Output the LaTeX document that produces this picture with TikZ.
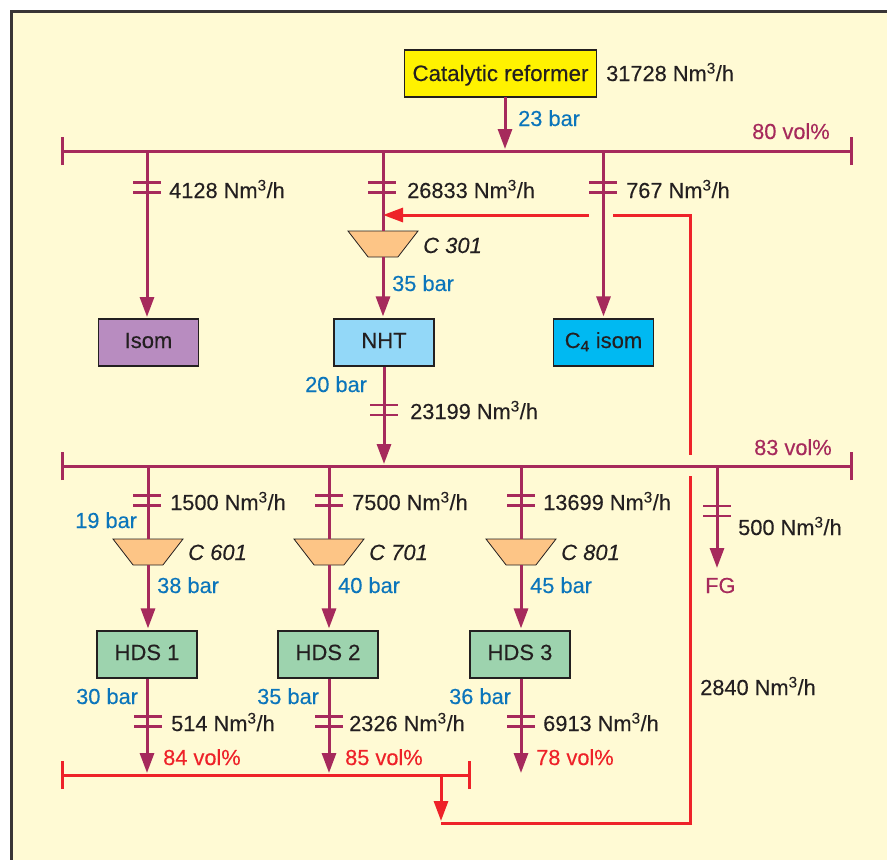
\documentclass[tikz,border=0pt]{standalone}
\usepackage{fontspec}
\setmainfont[RawFeature={embolden=0.25}]{Liberation Sans}
\usepackage{xcolor}
\usetikzlibrary{positioning,arrows.meta,shapes.geometric}
\definecolor{panelcream}{HTML}{FFFAD4}
\definecolor{h2maroon}{HTML}{A62A5C}
\definecolor{h2red}{HTML}{EE2229}
\definecolor{barblue}{HTML}{0B75BB}
\definecolor{inkgrey}{HTML}{231F20}
\definecolor{compfill}{HTML}{FDC586}
\definecolor{hdsgreen}{HTML}{9DD3AE}
\definecolor{isompurple}{HTML}{B88CC0}
\definecolor{nhtblue}{HTML}{93D8F8}
\definecolor{cfourblue}{HTML}{00B9F2}
\definecolor{reformeryellow}{HTML}{FFF200}
\newcommand{\Nm}{Nm\textsuperscript{3}/h}

\begin{document}
\begin{tikzpicture}[
  x=1pt, y=-1pt,
  node distance=100pt and 100pt, on grid,
  txt/.style={font=\fontsize{21.8}{26}\selectfont},
  unit/.style={draw=inkgrey, line width=1.2pt, minimum width=100pt, minimum height=47pt, inner sep=0pt, text height=11pt, text depth=0pt, font=\fontsize{22}{26}\selectfont, text=inkgrey},
  hds/.style={unit, fill=hdsgreen},
  comp/.style={trapezium, shape border rotate=180, trapezium angle=56, trapezium stretches=true, draw=inkgrey, line width=.8pt, fill=compfill, minimum width=70pt, minimum height=26pt, inner sep=1pt},
  flow/.style={anchor=base west, inner sep=0pt, yshift=-1pt, txt, text=inkgrey},
  bar/.style={flow, text=barblue},
  purity/.style={flow, text=h2maroon},
  offgas/.style={flow, text=h2red},
  tag/.style={flow, font=\fontsize{22}{26}\selectfont\itshape},
  pipe/.style={draw=h2maroon, line width=3pt},
  arrow/.style={pipe, shorten >=2pt, -{Triangle[length=20pt,width=14pt]}},
  redpipe/.style={draw=h2red, line width=3pt},
  redarrow/.style={redpipe, shorten >=2pt, -{Triangle[length=20pt,width=14pt]}}
]
\clip (0,0) rectangle (887,860);
\fill[white] (0,0) rectangle (887,860);
\fill[panelcream] (11,11) rectangle (890,880);
\draw[draw=inkgrey!90, line width=3pt] (11,880) -- (11,11) -- (890,11);

% units
\node[unit, fill=reformeryellow, minimum width=192pt, text height=15pt, font=\fontsize{22.3}{26}\selectfont] (reformer) at (500.5,73.5) {Catalytic reformer};
\node[unit, fill=isompurple] (isom) at (148.5,342.5) {Isom};
\node[unit, fill=nhtblue, right=235.5pt of isom] (nht) {NHT};
\node[unit, fill=cfourblue, right=219.5pt of nht] (cfour) {C\textsubscript{4} isom};
\node[hds] (hdsa) at (147,654.5) {HDS 1};
\node[hds, right=181pt of hdsa] (hdsb) {HDS 2};
\node[hds, right=192pt of hdsb] (hdsc) {HDS 3};

% compressors
\node[comp] (cthree) at (383,244) {};
\node[comp] (csix) at (148,552) {};
\node[comp, right=181pt of csix] (cseven) {};
\node[comp, right=192pt of cseven] (ceight) {};

% header ends and taps
\coordinate (hal) at (62,151);
\coordinate (har) at (851,151);
\coordinate (hbl) at (62,466);
\coordinate (hbr) at (851,466);
\coordinate (hcl) at (62,775);
\coordinate (hcr) at (469,775);
\coordinate (reftap) at (505,97);
\coordinate (isomtap) at (147,319);
\coordinate (fgend) at (717,570);
\coordinate (redbot) at (441,823);
\coordinate (redcorner) at (690,823);
\coordinate (redgapa) at (690,476);
\coordinate (redgapb) at (690,455);
\coordinate (redtop) at (690,215);
\coordinate (redstart) at (613,215);
\coordinate (redend) at (589,215);
\coordinate (redtip) at (381,215);

\draw[pipe] (hal) -- (har);
\draw[pipe] (hbl) -- (hbr);
\draw[redpipe] (hcl) -- (hcr);
\foreach \p in {hal,har,hbl,hbr}
  \draw[pipe] ([yshift=-14pt]\p) -- ([yshift=14pt]\p);
\foreach \p in {hcl,hcr}
  \draw[redpipe] ([yshift=-14pt]\p) -- ([yshift=14pt]\p);

% maroon lines
\draw[arrow] (reftap) -- (reftap |- hal);
\draw[arrow] (isomtap |- hal) -- (isomtap);
\draw[pipe] (cthree.north |- hal) -- (cthree.north);
\draw[arrow] (cthree.south) -- (cthree.south |- nht.north);
\draw[arrow] (cfour.north |- hal) -- (cfour.north);
\draw[arrow] (nht.south) -- (nht.south |- hbl);
\draw[pipe] (csix.north |- hbl) -- (csix.north);
\draw[pipe] (cseven.north |- hbl) -- (cseven.north);
\draw[pipe] (ceight.north |- hbl) -- (ceight.north);
\draw[arrow] (csix.south) -- (csix.south |- hdsa.north);
\draw[arrow] (cseven.south) -- (cseven.south |- hdsb.north);
\draw[arrow] (ceight.south) -- (ceight.south |- hdsc.north);
\draw[arrow] (hdsa.south) -- (hdsa.south |- hcl);
\draw[arrow] (cseven.south |- hdsb.south) -- (cseven.south |- hcl);
\draw[arrow] (ceight.south |- hdsc.south) -- (ceight.south |- hcl);
\draw[arrow] (fgend |- hbl) -- (fgend);

% red recycle
\draw[redarrow] (redend) -- (redtip);
\draw[redpipe] (redstart) -- (redtop) -- (redgapb);
\draw[redpipe] (redgapa) -- (redcorner) -- (redbot);
\draw[redarrow] (redbot |- hcl) -- (redbot);

% flow meter marks
\foreach \x/\y in {147/182.5, 382/182.5, 603/182.5, 384/405, 147/495.5, 329/495.5, 521/495.5, 717/506, 148/716.5, 329/716.5, 521/716.5} {
  \draw[draw=h2maroon, line width=2.6pt] (\x-14,\y) -- (\x+14,\y);
  \draw[draw=h2maroon, line width=2.6pt] (\x-14,\y+10) -- (\x+14,\y+10);
}

% labels
\node[flow] (fa) at (606,80) {31728 \Nm};
\node[bar] (pa) at (518,125) {23 bar};
\node[purity] (va) at (752,138) {80 vol\%};
\node[flow] (fb) at (169,197) {4128 \Nm};
\node[flow] (fc) at (407,197) {26833 \Nm};
\node[flow] (fd) at (626,197) {767 \Nm};
\node[tag] (ta) at (423,252) {C 301};
\node[bar] (pb) at (392,290) {35 bar};
\node[bar] (pc) at (305,391) {20 bar};
\node[flow] (fe) at (410,418) {23199 \Nm};
\node[purity] (vb) at (754,454) {83 vol\%};
\node[flow] (ff) at (170,509) {1500 \Nm};
\node[flow] (fg) at (352,509) {7500 \Nm};
\node[flow] (fh) at (543,509) {13699 \Nm};
\node[flow] (fi) at (738,534) {500 \Nm};
\node[bar] (pd) at (75,527) {19 bar};
\node[tag] (tb) at (188,559) {C 601};
\node[tag] (tc) at (369,559) {C 701};
\node[tag] (td) at (561,559) {C 801};
\node[bar] (pe) at (157,592) {38 bar};
\node[bar] (pf) at (338,592) {40 bar};
\node[bar] (pg) at (530,592) {45 bar};
\node[purity] (fuel) at (705,592) {FG};
\node[flow] (fj) at (700,694) {2840 \Nm};
\node[bar] (ph) at (76,703) {30 bar};
\node[bar] (pi) at (257,703) {35 bar};
\node[bar] (pj) at (449,703) {36 bar};
\node[flow] (fk) at (171,730) {514 \Nm};
\node[flow] (fl) at (349,730) {2326 \Nm};
\node[flow] (fm) at (543,730) {6913 \Nm};
\node[offgas] (vc) at (163,764) {84 vol\%};
\node[offgas] (vd) at (345,764) {85 vol\%};
\node[offgas] (ve) at (536,764) {78 vol\%};
\end{tikzpicture}
\end{document}
